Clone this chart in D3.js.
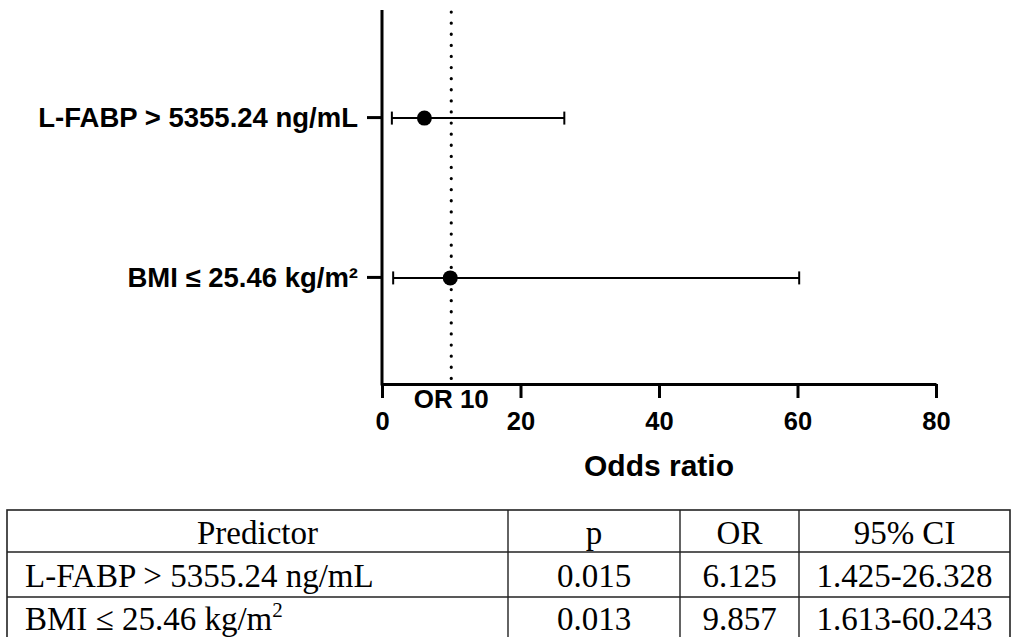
<!DOCTYPE html>
<html>
<head>
<meta charset="utf-8">
<script src="https://cdn.jsdelivr.net/npm/d3@7"></script>
<style>
  html, body { margin: 0; padding: 0; background: #fff; }
  svg { display: block; }
</style>
</head>
<body>
<svg id="chart" width="1011" height="637"></svg>
<script>
// ---- data ----
const predictors = ["L-FABP > 5355.24 ng/mL", "BMI ≤ 25.46 kg/m²"];
const orValues = [6.125, 9.857];
const ciLower = [1.425, 1.613];
const ciUpper = [26.328, 60.243];
const xTicks = [0, 20, 40, 60, 80];
const refLine = 10;
const refLabel = "OR 10";
const xTitle = "Odds ratio";

const tableHeader = ["Predictor", "p", "OR", "95% CI"];
const tablePredictor = ["L-FABP > 5355.24 ng/mL", "BMI ≤ 25.46 kg/m"];
const tablePredictorSup = ["", "2"];
const tableP = ["0.015", "0.013"];
const tableOR = ["6.125", "9.857"];
const tableCI = ["1.425-26.328", "1.613-60.243"];

const svg = d3.select("#chart");
const sans = "'Liberation Sans', Arial, Helvetica, sans-serif";
const serif = "'Liberation Serif', 'Times New Roman', serif";

const x = d3.scaleLinear().domain([0, 80]).range([382, 936]);
const y = d3.scalePoint().domain(predictors).range([10, 384]).padding(0.67);
const axisY = 384;

// x axis
const gx = svg.append("g").attr("transform", `translate(0,${axisY})`)
  .call(d3.axisBottom(x).tickValues(xTicks).tickSize(14).tickSizeOuter(0).tickFormat(d3.format("d")));
gx.select(".domain").attr("stroke", "#000").attr("stroke-width", 3);
gx.selectAll(".tick line").attr("stroke", "#000").attr("stroke-width", 3);
gx.selectAll(".tick text")
  .attr("y", 46).attr("dy", 0)
  .attr("font-family", sans).attr("font-weight", "bold").attr("font-size", 25.5).attr("fill", "#000");

// y axis
const gy = svg.append("g").attr("transform", `translate(${x(0)},0)`)
  .call(d3.axisLeft(y).tickSize(15).tickSizeOuter(0).tickPadding(9));
gy.select(".domain").attr("stroke", "#000").attr("stroke-width", 3)
  .attr("d", `M0,10V${axisY + 1.5}`);
gy.selectAll(".tick line").attr("stroke", "#000").attr("stroke-width", 3);
gy.selectAll(".tick text")
  .attr("dy", "0.36em")
  .attr("font-family", sans).attr("font-weight", "bold").attr("font-size", 27.5).attr("fill", "#000");

// reference dotted line
svg.append("line")
  .attr("x1", x(refLine)).attr("x2", x(refLine))
  .attr("y1", 12).attr("y2", axisY)
  .attr("stroke", "#000").attr("stroke-width", 3.2)
  .attr("stroke-linecap", "round")
  .attr("stroke-dasharray", "0.1 11");

svg.append("text")
  .attr("x", x(refLine)).attr("y", 408)
  .attr("text-anchor", "middle")
  .attr("font-family", sans).attr("font-weight", "bold").attr("font-size", 26)
  .text(refLabel);

svg.append("text")
  .attr("x", (x(0) + x(80)) / 2).attr("y", 476)
  .attr("text-anchor", "middle")
  .attr("font-family", sans).attr("font-weight", "bold").attr("font-size", 30)
  .text(xTitle);

// error bars and points
const rows = predictors.map((p, i) => ({ p, or: orValues[i], lo: ciLower[i], hi: ciUpper[i] }));
const g = svg.append("g");
rows.forEach(d => {
  const cy = y(d.p) + 1;
  g.append("line").attr("x1", x(d.lo)).attr("x2", x(d.hi)).attr("y1", cy).attr("y2", cy)
    .attr("stroke", "#000").attr("stroke-width", 2);
  [d.lo, d.hi].forEach(v => {
    g.append("line").attr("x1", x(v)).attr("x2", x(v)).attr("y1", cy - 6.5).attr("y2", cy + 6.5)
      .attr("stroke", "#000").attr("stroke-width", 2);
  });
  g.append("circle").attr("cx", x(d.or)).attr("cy", cy).attr("r", 7.5).attr("fill", "#000");
});

// ---- table ----
const colEdges = [7, 508, 680, 799, 1010];
const rowEdges = [510, 552, 597, 642];
const tg = svg.append("g");
tg.append("rect").attr("x", colEdges[0]).attr("y", rowEdges[0])
  .attr("width", colEdges[4] - colEdges[0]).attr("height", rowEdges[3] - rowEdges[0])
  .attr("fill", "none").attr("stroke", "#222").attr("stroke-width", 1.6);
colEdges.slice(1, 4).forEach(cx => {
  tg.append("line").attr("x1", cx).attr("x2", cx).attr("y1", rowEdges[0]).attr("y2", rowEdges[3])
    .attr("stroke", "#222").attr("stroke-width", 1.4);
});
rowEdges.slice(1, 3).forEach(ry => {
  tg.append("line").attr("x1", colEdges[0]).attr("x2", colEdges[4]).attr("y1", ry).attr("y2", ry)
    .attr("stroke", "#222").attr("stroke-width", 1.6);
});

function cellText(txt, cx, baseline, anchor, sup) {
  const t = tg.append("text")
    .attr("x", cx).attr("y", baseline)
    .attr("text-anchor", anchor)
    .attr("font-family", serif).attr("font-size", 33).attr("fill", "#000");
  t.append("tspan").text(txt);
  if (sup) {
    t.append("tspan").attr("font-size", 21).attr("dy", -13).text(sup);
  }
  return t;
}
const centers = colEdges.slice(0, 4).map((e, i) => (e + colEdges[i + 1]) / 2);
const baselines = [544, 587, 630];
tableHeader.forEach((h, i) => cellText(h, centers[i], baselines[0], "middle"));
tablePredictor.forEach((p, i) => {
  cellText(p, 25, baselines[i + 1], "start", tablePredictorSup[i]);
  cellText(tableP[i], centers[1], baselines[i + 1], "middle");
  cellText(tableOR[i], centers[2], baselines[i + 1], "middle");
  cellText(tableCI[i], centers[3], baselines[i + 1], "middle");
});
</script>
</body>
</html>
